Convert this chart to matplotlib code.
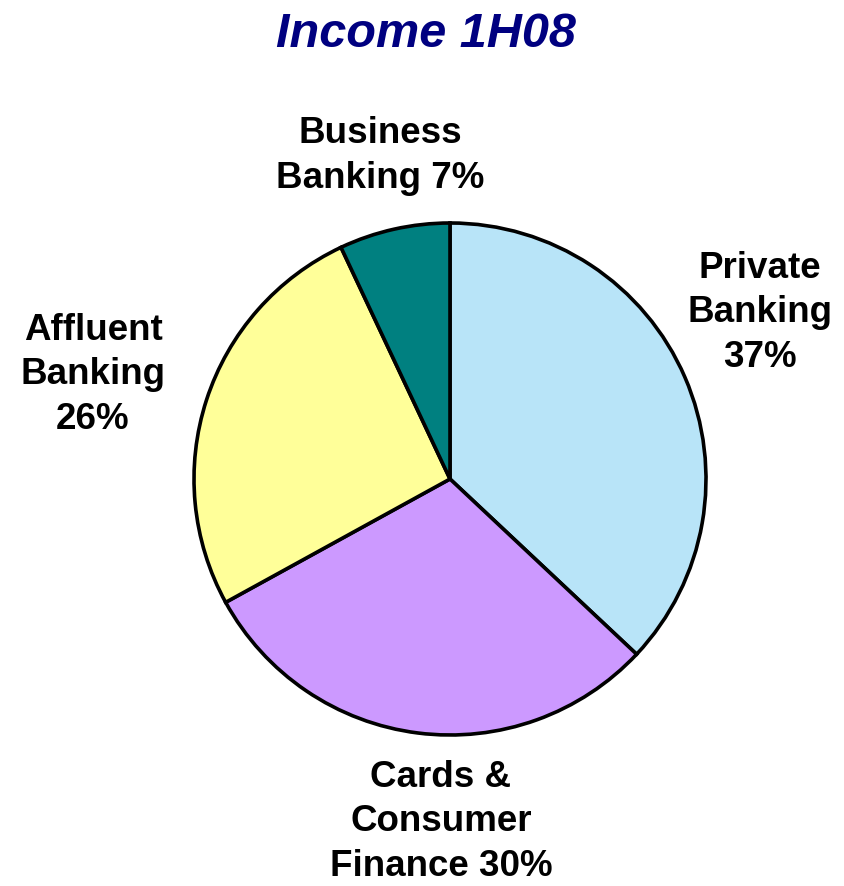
import matplotlib
matplotlib.use("Agg")
import matplotlib.pyplot as plt

# Income split by segment, 1H08 (clockwise from 12 o'clock)
segments = ["Private\nBanking\n37%", "Cards &\nConsumer\nFinance 30%",
            "Affluent\nBanking\n26%", "Business\nBanking 7%"]
shares = [37, 30, 26, 7]
colours = ["#B8E4F8", "#CC99FF", "#FFFF99", "#008080"]

# label anchor points in pixel space (x from left, y from top)
label_x = [760, 441, 93, 380]
label_y = [313, 822, 375, 156]

W, H = 844, 887
fig = plt.figure(figsize=(W / 100, H / 100), dpi=100)
ax = fig.add_axes([0, 0, 1, 1])

ax.pie(shares, colors=colours, startangle=90, counterclock=False,
       center=(450, H - 480), radius=256, frame=True,
       wedgeprops=dict(edgecolor="black", linewidth=2.6))
ax.set_xlim(0, W)
ax.set_ylim(0, H)
ax.axis("off")

for txt, x, y in zip(segments, label_x, label_y):
    ax.text(x, H - y, txt, ha="center", va="center", fontsize=26.5,
            fontweight="bold", family="Liberation Sans", linespacing=1.36)

ax.text(426, H - 34, "Income 1H08", ha="center", va="center", fontsize=35,
        fontweight="bold", fontstyle="italic", color="#000080",
        family="Liberation Sans")

fig.savefig("out.png", dpi=100)
